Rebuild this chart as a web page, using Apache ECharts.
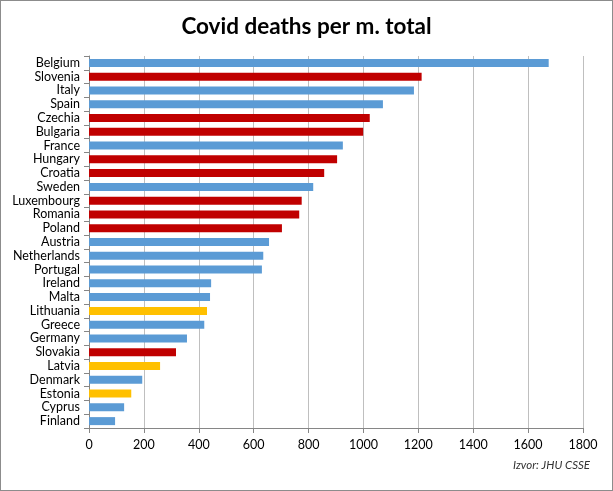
<!DOCTYPE html>
<html>
<head>
<meta charset="utf-8">
<script src="https://cdn.jsdelivr.net/npm/echarts@6/dist/echarts.min.js"></script>
<style>
html,body{margin:0;padding:0;background:#fff;}
#c{width:613px;height:491px;box-sizing:border-box;border:1px solid #8c8c8c;}
</style>
</head>
<body>
<div id="c"></div>
<script>
const categories = ["Belgium","Slovenia","Italy","Spain","Czechia","Bulgaria","France","Hungary","Croatia","Sweden","Luxembourg","Romania","Poland","Austria","Netherlands","Portugal","Ireland","Malta","Lithuania","Greece","Germany","Slovakia","Latvia","Denmark","Estonia","Cyprus","Finland"];
const values = [1675,1212,1184,1071,1023,999,925,904,857,817,775,766,703,656,635,630,445,441,430,420,357,317,259,194,154,128,95];
const groups = ["b","r","b","b","r","r","b","r","r","b","r","r","r","b","b","b","b","b","y","b","b","r","y","b","y","b","b"];
const xTicks = [0,200,400,600,800,1000,1200,1400,1600,1800];

const palette = {b:"#5B9BD5", r:"#C00000", y:"#FFC000"};
const font = "Lato, 'Open Sans', sans-serif";

const chart = echarts.init(document.getElementById('c'));
chart.setOption({
  animation:false,
  backgroundColor:'#fff',
  title:{text:'Covid deaths per m. total', left:'center', top:9,
    textStyle:{fontFamily:font, fontSize:22.5, fontWeight:'bold', color:'#000'}},
  graphic:[{type:'text', right:22, top:458, style:{text:'Izvor: JHU CSSE', font:"italic 11.5px "+font, fill:'#333'}}],
  grid:{left:88, right:29, top:55, bottom:62, containLabel:false},
  xAxis:{type:'value', min:xTicks[0], max:xTicks[xTicks.length-1], interval:200,
    axisLine:{show:true, lineStyle:{color:'#868686'}},
    axisTick:{show:true, length:5, lineStyle:{color:'#868686'}},
    axisLabel:{fontFamily:font, fontSize:12.5, color:'#000', margin:10, formatter:v=>String(v)},
    splitLine:{show:true, lineStyle:{color:'#bfbfbf'}}},
  yAxis:{type:'category', data:categories, inverse:true,
    axisLine:{show:true, lineStyle:{color:'#868686'}},
    axisTick:{show:true, length:5, interval:0, lineStyle:{color:'#868686'}},
    axisLabel:{fontFamily:font, fontSize:12.5, color:'#000', margin:9, interval:0}},
  series:[{type:'bar', barWidth:'58%',
    data:values.map((v,i)=>({value:v, itemStyle:{color:palette[groups[i]]}}))}]
});
</script>
</body>
</html>
